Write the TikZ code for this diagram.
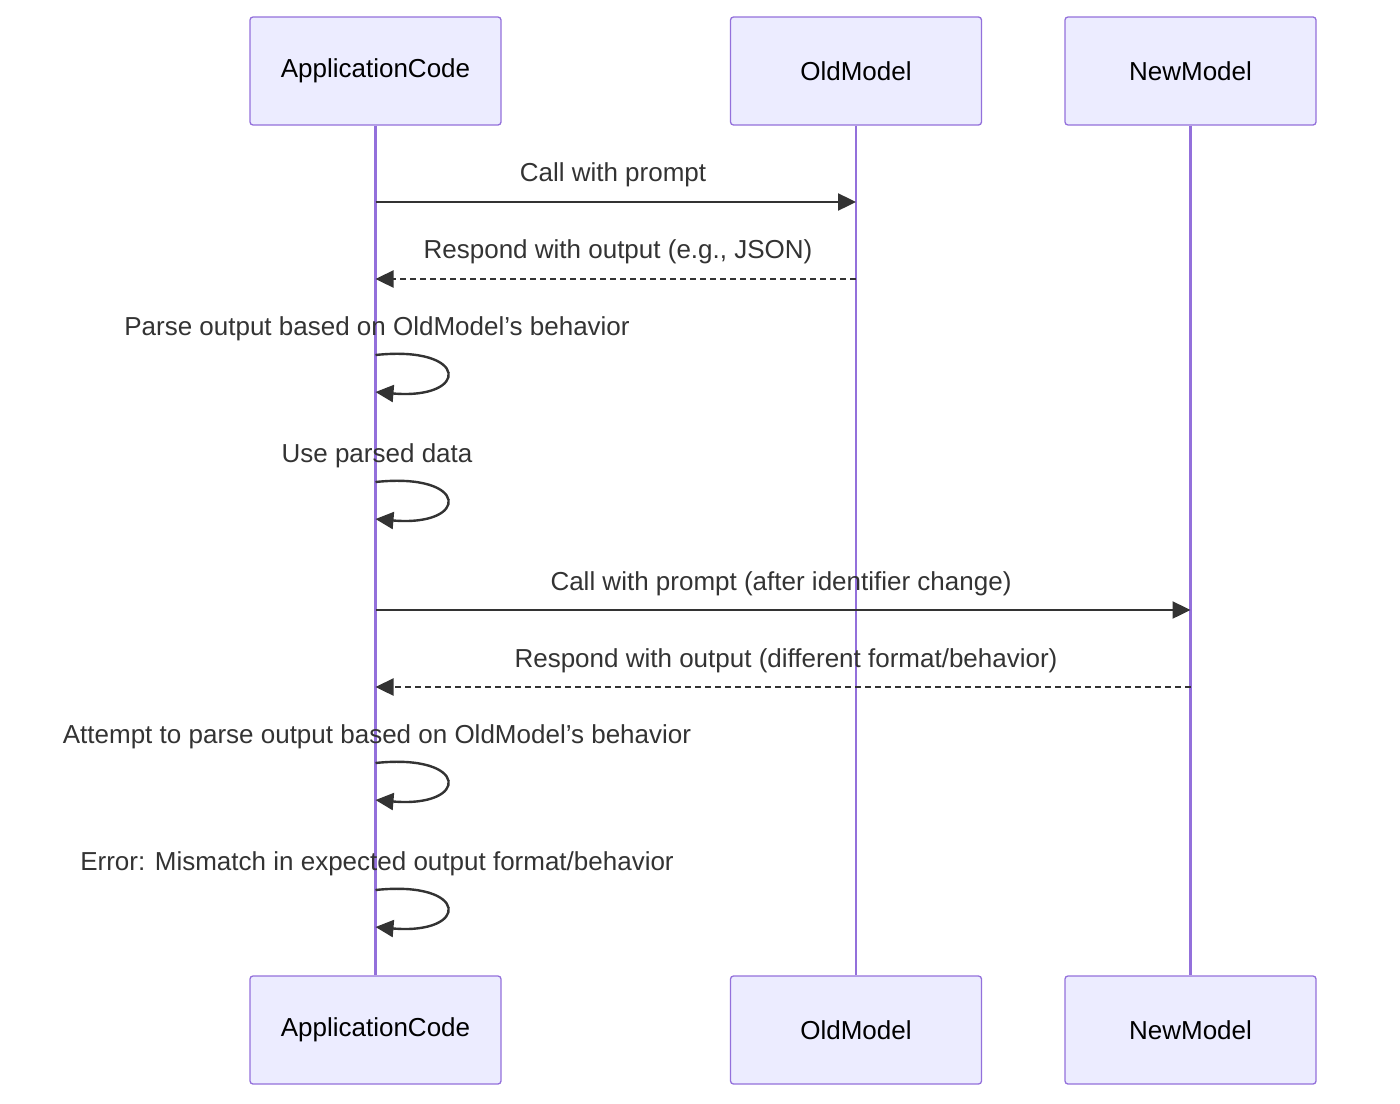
\documentclass[tikz,border=0pt]{standalone}
\usepackage{fontspec}
\setmainfont{Liberation Sans}
\usetikzlibrary{arrows.meta}
\definecolor{boxfill}{HTML}{ECECFF}
\definecolor{boxline}{HTML}{9370DB}
\definecolor{ink}{HTML}{333333}
\begin{document}
\begin{tikzpicture}[x=1pt,y=-1pt,
  actor/.style={draw=boxline,fill=boxfill,line width=1.3pt,rounded corners=3pt,minimum width=251pt,minimum height=108pt,inner sep=0pt,font=\fontsize{26}{30}\selectfont,text=black},
  life/.style={boxline,line width=2.6pt},
  msg/.style={ink,line width=2.4pt,-{Triangle[length=18pt,width=17pt]}},
  reply/.style={msg,dash pattern=on 6pt off 4pt},
  lbl/.style={font=\fontsize{26}{30}\selectfont,text=ink,inner sep=0pt}]
\useasboundingbox (0,0) rectangle (1400,1103);
\node[actor] (a1) at (375.5,71) {ApplicationCode};
\node[actor] (o1) at (856,71) {OldModel};
\node[actor] (n1) at (1190.5,71) {NewModel};
\node[actor] (a2) at (375.5,1030) {ApplicationCode};
\node[actor] (o2) at (856,1030) {OldModel};
\node[actor] (n2) at (1190.5,1030) {NewModel};
\draw[life] (a1.south) -- (a2.north);
\draw[life] (o1.south) -- (o2.north);
\draw[life] (n1.south) -- (n2.north);
% messages
\coordinate (m1a) at (375.5,202); \coordinate (m1b) at (856,202);
\draw[msg] (m1a) -- (m1b);
\node[lbl] (l1) at (613,175) {Call with prompt};
\coordinate (m2a) at (856,279); \coordinate (m2b) at (375.5,279);
\draw[reply] (m2a) -- (m2b);
\node[lbl] (l2) at (618,252) {Respond with output (e.g., JSON)};
\foreach \y/\t [count=\i] in {355/{Parse output based on OldModel's behavior},482/{Use parsed data},763/{Attempt to parse output based on OldModel's behavior},890/{Error: Mismatch in expected output format/behavior}}{
  \coordinate (s\i a) at (375.5,\y);
  \coordinate (s\i b) at (375.5,\y+37);
  \draw[msg] (s\i a) .. controls (470,\y-10) and (470,\y+45) .. (s\i b);
  \node[lbl] (sl\i) at (377,\y-26) {\t};
}
\coordinate (m3a) at (375.5,610); \coordinate (m3b) at (1190.5,610);
\draw[msg] (m3a) -- (m3b);
\node[lbl] (l3) at (781,584) {Call with prompt (after identifier change)};
\coordinate (m4a) at (1190.5,687); \coordinate (m4b) at (375.5,687);
\draw[reply] (m4a) -- (m4b);
\node[lbl] (l4) at (786,661) {Respond with output (different format/behavior)};
\end{tikzpicture}
\end{document}
